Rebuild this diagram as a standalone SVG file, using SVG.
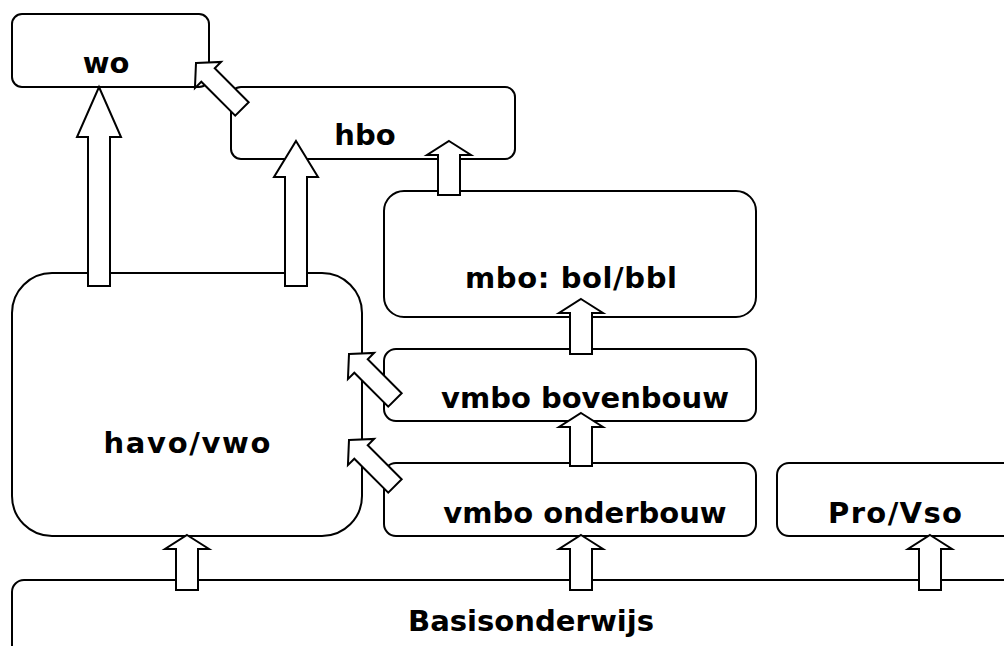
<svg xmlns="http://www.w3.org/2000/svg" width="1004" height="646" viewBox="0 0 1004 646">
<defs>
<style>
.box{fill:#fff;stroke:#000;stroke-width:2}
.arr{fill:#fff;stroke:#000;stroke-width:2;stroke-linejoin:miter}
.lbl{font-family:"DejaVu Sans","Liberation Sans",sans-serif;font-weight:bold;font-size:29px;fill:#000;text-anchor:middle}
</style>
<path id="diag" d="M0,0 L18.5,17 L9.5,17 L9.5,65 L-9.5,65 L-9.5,17 L-18.5,17 Z"/>
</defs>
<rect width="1004" height="646" fill="#fff"/>
<g id="node-basis"><rect class="box" x="12" y="580" width="1010" height="90" rx="12"/><text class="lbl" x="531" y="631" textLength="246" lengthAdjust="spacingAndGlyphs">Basisonderwijs</text></g>
<g id="node-wo"><rect class="box" x="12" y="14" width="197" height="73" rx="10"/><text class="lbl" x="106" y="73">wo</text></g>
<g id="node-hbo"><rect class="box" x="231" y="87" width="284" height="72" rx="10"/><text class="lbl" x="365" y="145">hbo</text></g>
<g id="node-mbo"><rect class="box" x="384" y="191" width="372" height="126" rx="20"/><text class="lbl" x="571" y="288" textLength="212" lengthAdjust="spacing">mbo: bol/bbl</text></g>
<g id="node-vmbo-bovenbouw"><rect class="box" x="384" y="349" width="372" height="72" rx="12"/><text class="lbl" x="585" y="408">vmbo bovenbouw</text></g>
<g id="node-vmbo-onderbouw"><rect class="box" x="384" y="463" width="372" height="73" rx="12"/><text class="lbl" x="585" y="523">vmbo onderbouw</text></g>
<g id="node-provso"><rect class="box" x="777" y="463" width="260" height="73" rx="12"/><text class="lbl" x="895" y="523" textLength="134" lengthAdjust="spacing">Pro/Vso</text></g>
<g id="node-havovwo"><rect class="box" x="12" y="273" width="350" height="263" rx="40"/><text class="lbl" x="187" y="453" textLength="167" lengthAdjust="spacing">havo/vwo</text></g>
<g id="connectors">
<polygon class="arr" points="99,87 121,137 110,137 110,286 88,286 88,137 77,137"/>
<polygon class="arr" points="296,141 318,177 307,177 307,286 285,286 285,177 274,177"/>
<polygon class="arr" points="449,141 471,155 460,155 460,195 438,195 438,155 427,155"/>
<polygon class="arr" points="581,299 603,313 592,313 592,354 570,354 570,313 559,313"/>
<polygon class="arr" points="581,413 603,427 592,427 592,466 570,466 570,427 559,427"/>
<polygon class="arr" points="187,535 209,549 198,549 198,590 176,590 176,549 165,549"/>
<polygon class="arr" points="581,535 603,549 592,549 592,590 570,590 570,549 559,549"/>
<polygon class="arr" points="930,535 952,549 941,549 941,590 919,590 919,549 908,549"/>
<use href="#diag" class="arr" transform="translate(196,63) rotate(-45)"/>
<use href="#diag" class="arr" transform="translate(349,354) rotate(-45)"/>
<use href="#diag" class="arr" transform="translate(349,440) rotate(-45)"/>
</g>
</svg>
